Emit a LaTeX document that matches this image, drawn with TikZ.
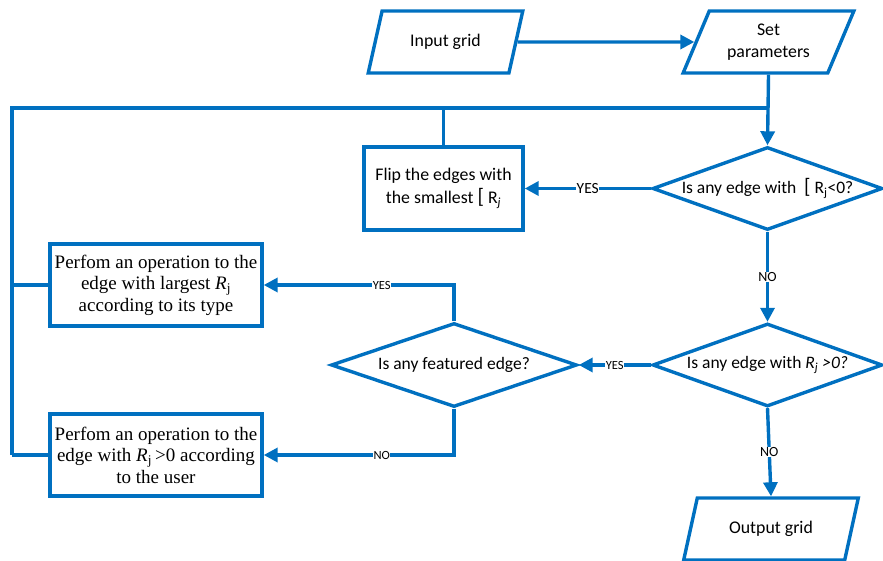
\documentclass[tikz,border=0pt]{standalone}
\usepackage{fontspec}
\setmainfont{Carlito}
\newfontfamily\timesf{Liberation Serif}
\usetikzlibrary{shapes.geometric,arrows.meta}
\definecolor{fb}{HTML}{0070C0}
\tikzset{
  ln/.style={draw=fb, line width=3.4pt},
  arr/.style={ln, -{Triangle[length=14pt,width=14pt]}},
  io/.style={trapezium, trapezium left angle=63.4, trapezium right angle=116.6,
    trapezium stretches=true, draw=fb, line width=3.4pt, minimum height=62pt,
    inner sep=0pt, align=center, font=\fontsize{17.8}{22}\selectfont},
  boxc/.style={rectangle, draw=fb, line width=3.4pt, inner sep=0pt, align=center,
    font=\fontsize{17.8}{23}\selectfont},
  boxt/.style={rectangle, draw=fb, line width=3.4pt, inner sep=0pt, align=center,
    minimum width=212pt, minimum height=82pt,
    font=\timesf\fontsize{19}{21.5}\selectfont},
  dia/.style={diamond, shape aspect=2.8, draw=fb, line width=3.4pt, inner sep=0pt,
    minimum height=83pt, font=\fontsize{17.5}{22}\selectfont},
  lbl/.style={fill=white, inner sep=0.5pt, text=black},
}
\begin{document}
\begin{tikzpicture}[x=1pt,y=-1pt]
\useasboundingbox (0,0) rectangle (883,561);
% nodes
\node[io, minimum width=155pt] (in) at (445.5,42) {Input grid};
\node[io, minimum width=171pt] (set) at (768.5,42) {Set\\parameters};
\node[boxc, minimum width=159pt, minimum height=83pt] (flip) at (443.5,188.5)
  {Flip the edges with\\the smallest {\fontsize{21}{22}\selectfont[} R\textsubscript{\textit{j}}};
\node[dia, minimum width=230pt] (d1) at (767.5,188.5) {Is any edge with \ {\fontsize{21}{22}\selectfont[} R\textsubscript{j}<0?};
\node[dia, minimum width=230pt] (d2) at (767.5,365) {Is any edge with \textit{R\textsubscript{j} >0?}};
\node[dia, minimum width=246pt, minimum height=84pt] (d3) at (454,365) {Is any featured edge?};
\node[boxt] (A) at (156,285) {\timesf Perfom an operation to the\\\timesf edge with largest \textit{R}\textsubscript{j}\\\timesf according to its type};
\node[boxt] (B) at (156,455) {\timesf Perfom an operation to the\\\timesf edge with \textit{R}\textsubscript{j}\,>0 according\\\timesf to the user};
\node[io, minimum width=176pt] (out) at (771,529) {Output grid};
% junctions
\coordinate (j) at (767.5,108);
\coordinate (L) at (12,108);
\coordinate (Lb) at (12,455);
% connectors
\draw[arr] (in.east) -- (set.west);
\draw[ln] (j) -- (L) -- (Lb);
\draw[ln] (A.west) -- (A.west -| L);
\draw[ln] (B.west) -- (Lb);
\draw[ln] (flip.north) -- (flip.north |- j);
\draw[arr] (set.south) -- (d1.north);
\draw[arr] (d1.west) -- node[lbl, font=\fontsize{15.5}{17}\selectfont]{YES} (flip.east);
\draw[arr] (d1.south) -- node[lbl, font=\fontsize{14}{16}\selectfont]{NO} (d2.north);
\draw[arr] (d2.west) -- node[lbl, font=\fontsize{12.5}{14}\selectfont]{YES} (d3.east);
\draw[arr] (d3.north) |- node[lbl, pos=0.69, font=\fontsize{12.5}{14}\selectfont]{YES} (A.east);
\draw[arr] (d3.south) |- node[lbl, pos=0.69, font=\fontsize{12.5}{14}\selectfont]{NO} (B.east);
\draw[arr] (d2.south) -- node[lbl, font=\fontsize{14}{16}\selectfont]{NO} (out.north);
\end{tikzpicture}
\end{document}
